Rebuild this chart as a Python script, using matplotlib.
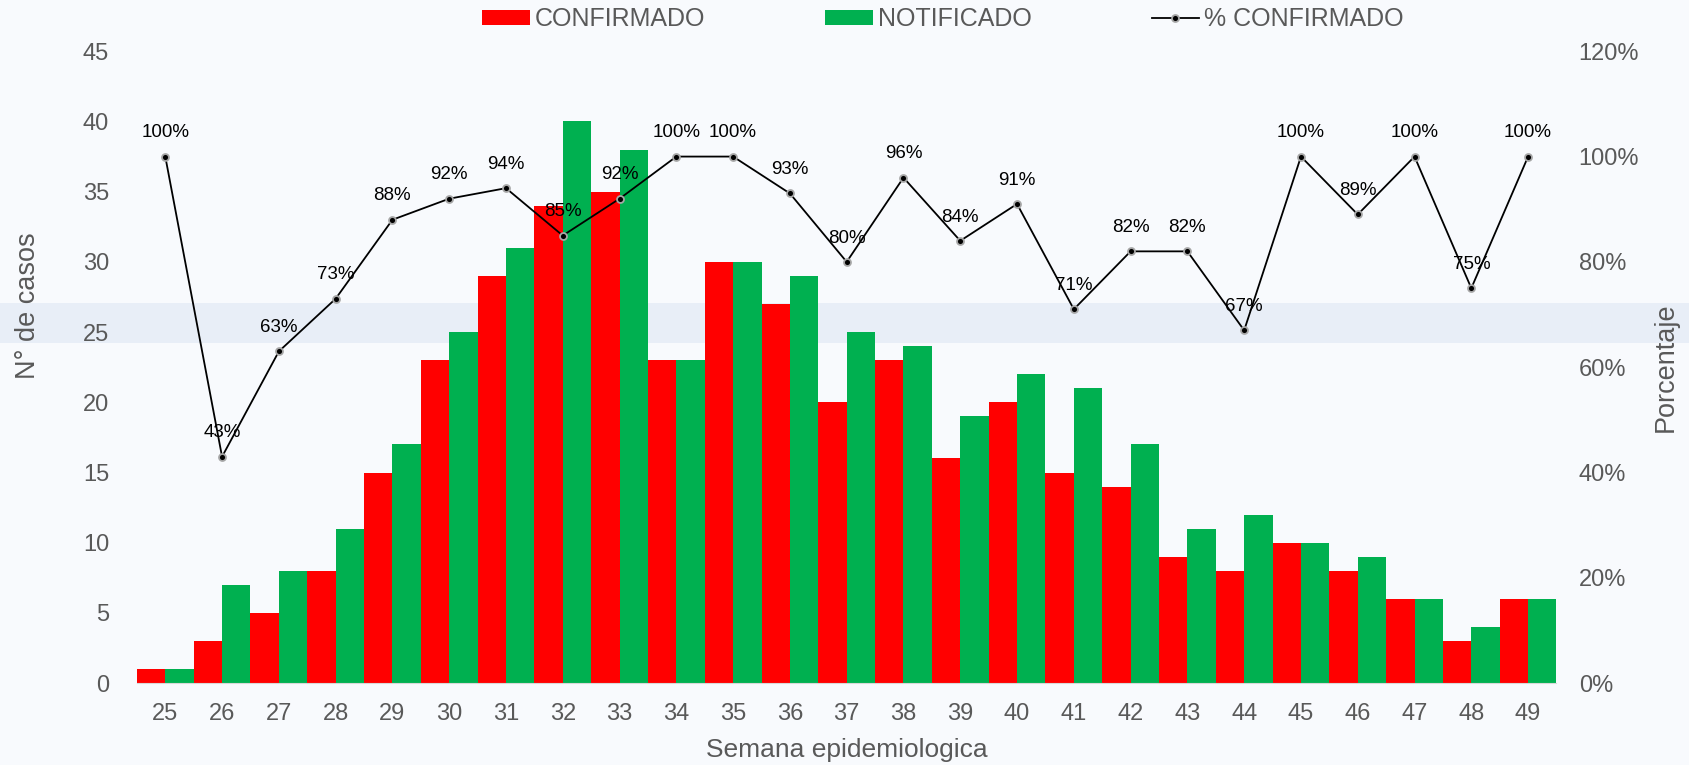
import matplotlib.pyplot as plt
import matplotlib.patches as mpatches
from matplotlib.ticker import FuncFormatter
import numpy as np

plt.rcParams['font.family'] = ['Liberation Sans', 'DejaVu Sans']

semanas = ['25', '26', '27', '28', '29', '30', '31', '32', '33', '34', '35', '36', '37',
           '38', '39', '40', '41', '42', '43', '44', '45', '46', '47', '48', '49']
confirmado = [1, 3, 5, 8, 15, 23, 29, 34, 35, 23, 30, 27, 20, 23, 16, 20, 15, 14, 9, 8, 10, 8, 6, 3, 6]
notificado = [1, 7, 8, 11, 17, 25, 31, 40, 38, 23, 30, 29, 25, 24, 19, 22, 21, 17, 11, 12, 10, 9, 6, 4, 6]
pct_confirmado = [100, 43, 63, 73, 88, 92, 94, 85, 92, 100, 100, 93, 80, 96, 84, 91, 71, 82, 82, 67,
                  100, 89, 100, 75, 100]

gris = '#595959'
fondo = '#F8FAFD'
marca = '#E8EEF7'

fig = plt.figure(figsize=(16.9, 7.65), dpi=100, facecolor=fondo)

# franja tenue de fondo
bg = fig.add_axes([0, 0, 1, 1], zorder=-10)
bg.set_xlim(0, 1690)
bg.set_ylim(765, 0)
bg.axis('off')
bg.add_patch(mpatches.Rectangle((0, 303), 1690, 40, color=marca, lw=0))

ax = fig.add_axes([0.081, 0.107, 0.84, 0.826])
ax.patch.set_alpha(0)
x = np.arange(len(semanas))
ax.bar(x - 0.25, confirmado, width=0.5, color='#FF0000', label='CONFIRMADO')
ax.bar(x + 0.25, notificado, width=0.5, color='#00B050', label='NOTIFICADO')
ax.set_xlim(-0.5, len(semanas) - 0.5)
ax.set_ylim(0, 45)
ax.set_yticks(range(0, 46, 5))
ax.set_xticks(x)
ax.set_xticklabels(semanas)
for s in ['top', 'right', 'left']:
    ax.spines[s].set_visible(False)
ax.spines['bottom'].set_color('#D9D9D9')
ax.tick_params(length=0, colors=gris, labelsize=17)
ax.tick_params(axis='x', pad=14)
ax.tick_params(axis='y', pad=20)
ax.set_xlabel('Semana epidemiologica', fontsize=19, color=gris, labelpad=10)
ax.set_ylabel('N° de casos', fontsize=19.5, color=gris)
ax.yaxis.set_label_coords(-0.0675, 0.598)

ax2 = ax.twinx()
ax2.plot(x, pct_confirmado, color='black', lw=1.3, marker='o', markersize=5,
         markerfacecolor='black', markeredgecolor='#A6A6A6', markeredgewidth=1.3,
         label='% CONFIRMADO')
for xi, v in zip(x, pct_confirmado):
    ax2.annotate(f'{v}%', (xi, v), xytext=(0, 11), textcoords='offset points',
                 ha='center', va='bottom', fontsize=13.5, color='black')
ax2.set_ylim(0, 120)
ax2.set_yticks(range(0, 121, 20))
ax2.yaxis.set_major_formatter(FuncFormatter(lambda v, p: f'{v:.0f}%'))
for s in ax2.spines.values():
    s.set_visible(False)
ax2.tick_params(length=0, colors=gris, labelsize=17, pad=16)
ax2.set_ylabel('Porcentaje', fontsize=19.5, color=gris)
ax2.yaxis.set_label_coords(1.0675, 0.5)

h1, l1 = ax.get_legend_handles_labels()
h2, l2 = ax2.get_legend_handles_labels()
fig.legend(h1 + h2, l1 + l2, loc='center', bbox_to_anchor=(0.558, 0.975), ncol=3,
           frameon=False, fontsize=18, labelcolor=gris, handlelength=1.9,
           handleheight=0.55, handletextpad=0.2, columnspacing=4.8)

fig.savefig('out.png', dpi=100, facecolor=fondo)
